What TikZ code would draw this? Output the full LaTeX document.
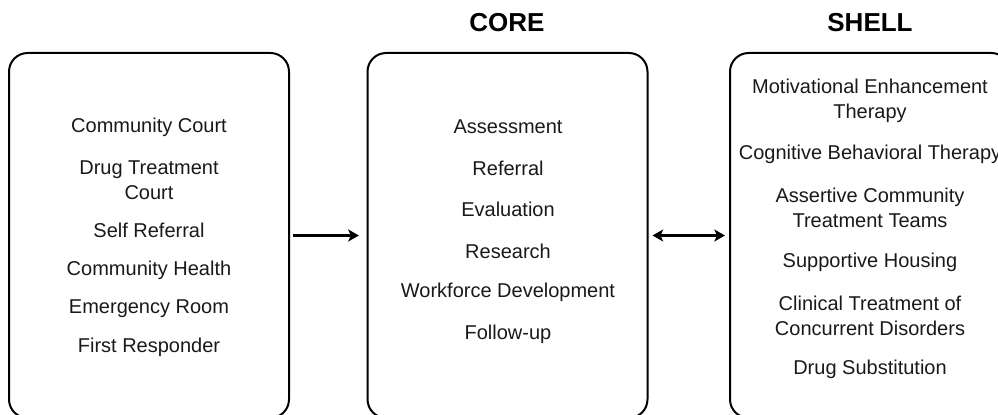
\documentclass[tikz,border=0pt]{standalone}
\usepackage{fontspec}
\setmainfont{Liberation Sans}
\usetikzlibrary{arrows.meta}

\begin{document}
\begin{tikzpicture}[x=0.75pt, y=0.75pt,
  box/.style={draw, line width=1.5pt, rounded corners=14pt, inner sep=0pt, outer sep=0pt,
    minimum width=210pt, minimum height=273.75pt},
  item/.style={align=center, text=black!90, font=\fontsize{15}{18.6}\selectfont},
  title/.style={font=\fontsize{19.5}{22}\selectfont\bfseries},
  tip/.style={Stealth[length=8pt, width=9pt, inset=2pt]},
  arr/.style={line width=2pt, -{Stealth[length=8pt, width=9pt, inset=2pt]}}]
\clip (0,0) rectangle (998,414);
% three columns
\node[box] (entry) at (149,178.5) {};
\node[box] (core) at (507.5,178.5) {};
\node[box] (shell) at (870,178.5) {};
\node[title] (coretitle) at (507,391) {CORE};
\node[title] (shelltitle) at (870,391) {SHELL};
% ways in
\node[item] (e1) at (149,287) {Community Court};
\node[item] (e2) at (149,234) {Drug Treatment\\Court};
\node[item] (e3) at (149,184) {Self Referral};
\node[item] (e4) at (149,144) {Community Health};
\node[item] (e5) at (149,105) {Emergency Room};
\node[item] (e6) at (149,67) {First Responder};
% core services
\node[item] (c1) at (508,287) {Assessment};
\node[item] (c2) at (508,246) {Referral};
\node[item] (c3) at (508,205) {Evaluation};
\node[item] (c4) at (508,163) {Research};
\node[item] (c5) at (508,122) {Workforce Development};
\node[item] (c6) at (508,80) {Follow-up};
% shell services
\node[item] (s1) at (870,313.5) {Motivational Enhancement\\Therapy};
\node[item] (s2) at (870,260) {Cognitive Behavioral Therapy};
\node[item] (s3) at (870,206) {Assertive Community\\Treatment Teams};
\node[item] (s4) at (870,152) {Supportive Housing};
\node[item] (s5) at (870,98.5) {Clinical Treatment of\\Concurrent Disorders};
\node[item] (s6) at (870,45) {Drug Substitution};
% links
\draw[arr, shorten <=3pt, shorten >=6.5pt] (entry.east) -- (core.west);
\draw[arr, {Stealth[length=8pt, width=9pt, inset=2pt]}-{Stealth[length=8pt, width=9pt, inset=2pt]},
  shorten <=3.75pt, shorten >=3.75pt] (core.east) -- (shell.west);
\end{tikzpicture}
\end{document}
